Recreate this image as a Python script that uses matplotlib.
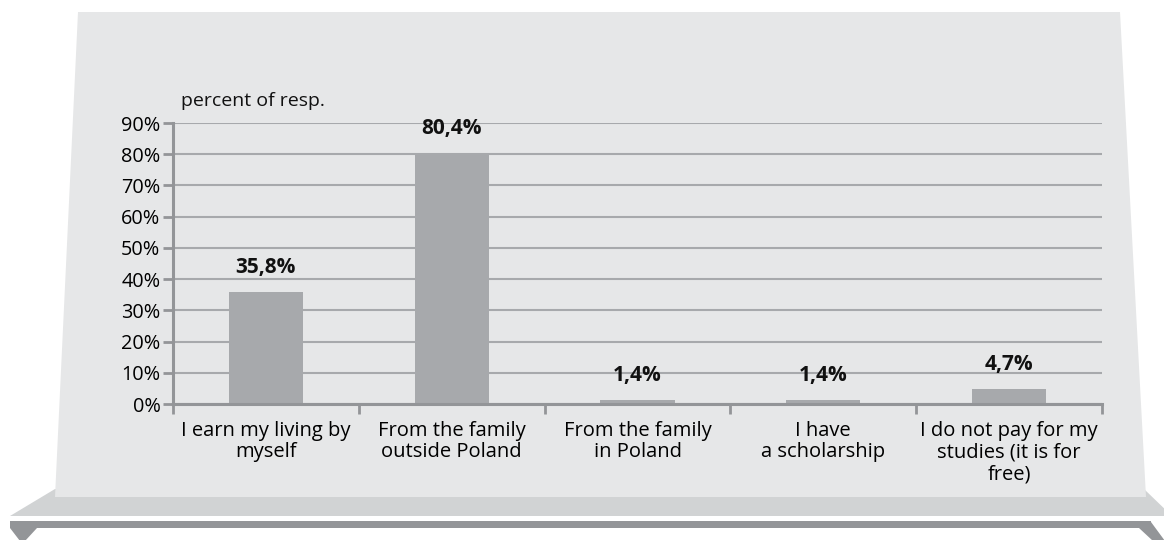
import matplotlib
matplotlib.use("Agg")
import matplotlib.pyplot as plt
from matplotlib.patches import Polygon, Rectangle

# sources of financing studies, percent of respondents
categories = [
    "I earn my living by\nmyself",
    "From the family\noutside Poland",
    "From the family\nin Poland",
    "I have\na scholarship",
    "I do not pay for my\nstudies (it is for\nfree)",
]
values = [35.8, 80.4, 1.4, 1.4, 4.7]
value_labels = ["35,8%", "80,4%", "1,4%", "1,4%", "4,7%"]
y_ticks = [0, 10, 20, 30, 40, 50, 60, 70, 80, 90]

plt.rcParams["font.family"] = ["Open Sans", "DejaVu Sans"]

PANEL = "#e6e7e8"
SHELF = "#d1d3d4"
DARK = "#939598"
BAR = "#a7a9ac"

W, H = 1164, 540
fig = plt.figure(figsize=(W / 100, H / 100), dpi=100)

# backdrop: a card standing on a shelf, drawn in pixel units
bg = fig.add_axes([0, 0, 1, 1], zorder=-1)
bg.set_xlim(0, W)
bg.set_ylim(H, 0)
bg.axis("off")
bg.add_patch(Polygon([(55, 489), (1144, 489), (1172, 516), (10, 516)],
                     closed=True, facecolor=SHELF, edgecolor="none"))
bg.add_patch(Polygon([(78, 12), (1120, 12), (1146, 497), (55, 497)],
                     closed=True, facecolor=PANEL, edgecolor="none"))
bg.add_patch(Rectangle((10, 521), 1141, 7, facecolor=DARK, edgecolor="none"))
bg.add_patch(Polygon([(10, 528), (37, 528), (25, 541), (20, 541)],
                     closed=True, facecolor=DARK, edgecolor="none"))
bg.add_patch(Polygon([(1139, 528), (1151, 522), (1165, 541), (1153, 541)],
                     closed=True, facecolor=DARK, edgecolor="none"))

ax = fig.add_axes([173 / W, 136 / H, 929 / W, 281 / H])
ax.set_facecolor("none")

x = list(range(len(categories)))
ax.bar(x, values, width=0.4, color=BAR, zorder=3)
for xi, v, lab in zip(x, values, value_labels):
    ax.annotate(lab, (xi, v), xytext=(0, 10), textcoords="offset points",
                ha="center", va="bottom", fontsize=15, fontweight="bold",
                color="#111111")

ax.set_xlim(-0.5, len(categories) - 0.5)
ax.set_ylim(0, 90)
ax.set_yticks(y_ticks)
ax.set_yticklabels([f"{t}%" for t in y_ticks])
ax.yaxis.grid(True, color=BAR, linewidth=1.5, zorder=1)
ax.set_axisbelow(True)

# category boundaries get the tick marks, centres get the labels
ax.set_xticks([i - 0.5 for i in range(len(categories) + 1)])
ax.set_xticklabels([])
ax.set_xticks(x, minor=True)
ax.set_xticklabels(categories, minor=True, fontsize=14.5, linespacing=1.12)
ax.tick_params(axis="x", which="major", length=7, width=2, color=DARK, direction="out")
ax.tick_params(axis="x", which="minor", length=0, pad=12)
ax.tick_params(axis="y", length=7, width=2, color=DARK, labelsize=14.3, pad=2)

for side in ("top", "right"):
    ax.spines[side].set_visible(False)
for side in ("left", "bottom"):
    ax.spines[side].set_color(DARK)
    ax.spines[side].set_linewidth(2.2)
    ax.spines[side].set_zorder(4)

fig.text(181 / W, 1 - 101 / H, "percent of resp.", fontsize=14,
         ha="left", va="center", color="#111111")

fig.savefig("out.png", dpi=100)
